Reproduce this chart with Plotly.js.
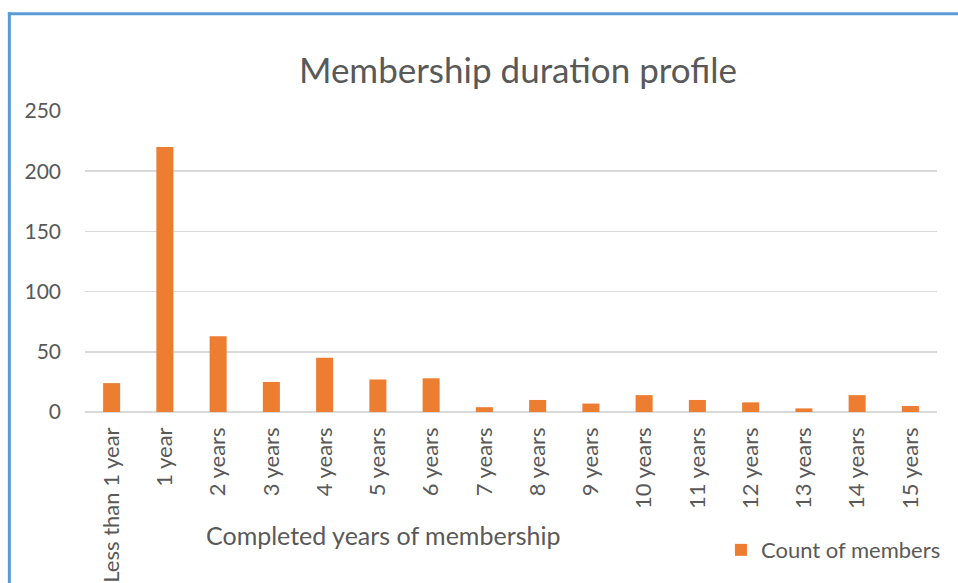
<!DOCTYPE html>
<html>
<head>
<meta charset="utf-8">
<script src="https://cdn.plot.ly/plotly-3.0.1.min.js"></script>
<style>html,body{margin:0;padding:0;background:#fff;}#chart{width:958px;height:583px;}</style>
</head>
<body>
<div id="chart"></div>
<script>
const categories = ["Less than 1 year","1 year","2 years","3 years","4 years","5 years","6 years","7 years","8 years","9 years","10 years","11 years","12 years","13 years","14 years","15 years"];
const counts = [24,220,63,25,45,27,28,4,10,7,14,10,8,3,14,5];
const seriesName = "Count of members";
const yTicks = [0,50,100,150,200,250];

const L = 85, R = 17, T = 110.5, B = 170.5;
const W = 958, H = 583;
const pw = W - L - R, ph = H - T - B;
const px2x = p => (p - L) / pw;
const py2y = p => (H - B - p) / ph;
const txt = '#595959';
const font = 'Lato, Open Sans, sans-serif';

const trace = {
  type: 'bar', x: categories, y: counts, name: seriesName,
  marker: {color: '#ed7d31'}, width: 0.32, showlegend: true
};

const layout = {
  width: W, height: H,
  margin: {l: L, r: R, t: T, b: B, pad: 0},
  paper_bgcolor: '#fff', plot_bgcolor: '#fff',
  font: {family: font, color: txt, size: 22},
  title: {text: 'Membership duration profile', font: {size: 35, color: txt, family: font},
          x: (518)/W, xanchor: 'center', y: 1 - 71/H, yanchor: 'middle'},
  xaxis: {type: 'category', tickangle: -90, tickfont: {size: 22, color: txt},
          showgrid: false, showline: false, ticks: '', zeroline: false, automargin: false,
          ticklabelstandoff: 10},
  yaxis: {range: [0, 250], tickvals: yTicks, tickfont: {size: 21, color: txt},
          gridcolor: '#d9d9d9', gridwidth: 1.5, zeroline: true, zerolinecolor: '#d9d9d9', zerolinewidth: 1.5,
          showline: false, ticks: '', ticklabelstandoff: 23, automargin: false},
  showlegend: true,
  legend: {x: px2x(950), xanchor: 'right', y: py2y(551), yanchor: 'middle',
           font: {size: 22, color: txt}, bgcolor: 'rgba(0,0,0,0)', itemwidth: 30},
  annotations: [{text: 'Completed years of membership', xref: 'paper', yref: 'paper',
                 x: px2x(384), y: py2y(536), xanchor: 'center', yanchor: 'middle',
                 showarrow: false, font: {size: 25, color: txt}}],
  shapes: [
    {type: 'line', xref: 'paper', yref: 'paper', x0: px2x(9), x1: px2x(9), y0: py2y(11.5), y1: py2y(590),
     line: {color: '#5b9bd5', width: 3}},
    {type: 'line', xref: 'paper', yref: 'paper', x0: px2x(7.5), x1: px2x(965), y0: py2y(13), y1: py2y(13),
     line: {color: '#5b9bd5', width: 3}}
  ],
  bargap: 0.68
};

Plotly.newPlot('chart', [trace], layout, {displayModeBar: false, staticPlot: true});
</script>
</body>
</html>
